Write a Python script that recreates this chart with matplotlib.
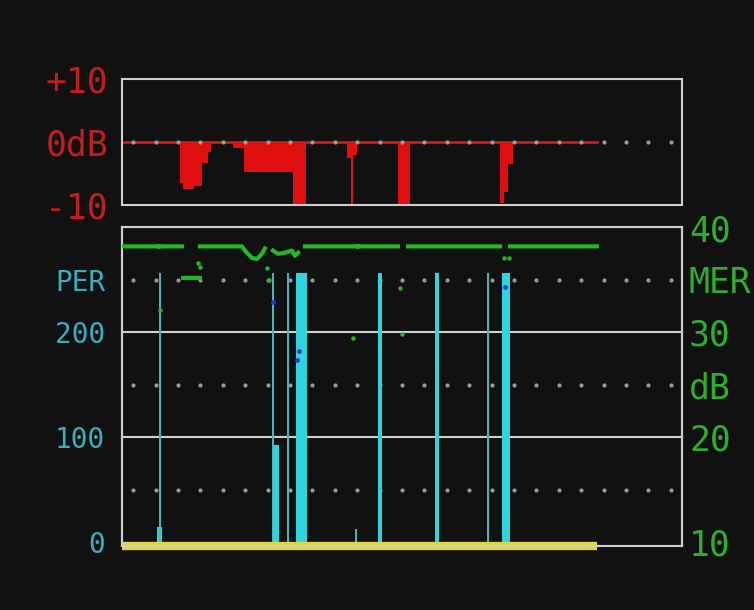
import numpy as np
from matplotlib import pyplot as plt

# time axis: 0..250 samples across the screen, data recorded up to 212
rec_end = 212.0

# MER deviation (dB), step series
delta_x = [0, 25.9, 27.2, 32.1, 35.7, 38.4, 39.7, 49.5, 54.4, 76.3, 82.1,
           100.4, 102.2, 103.1, 104.9, 123.2, 128.6, 168.8, 170.5, 172.3, 174.6, 212.0]
delta_db = [0, -6.5, -7.5, -7.0, -3.4, -1.6, 0, -0.9, -4.8, -10, 0,
            -2.5, -10, -2.0, 0, -10, 0, -9.7, -8.0, -3.5, 0, 0]

# MER (dB), NaN = gap in trace
mer_x = [0, 16.3, 16.5, 16.8, 26.8, 27.0, 34.8, 53.6, 54.9, 58.0, 60.3, 62.5, 63.8, 64.5,
         67.4, 69.6, 72.8, 75.9, 77.2, 78.6, 79.5, 81.7, 105.0, 105.2, 105.4, 123.2,
         124.5, 127.7, 168.8, 170.0, 173.2, 212.0]
mer_db = [38.2, 38.2, np.nan, 38.2, 38.2, np.nan, 38.2, 38.2, 37.8, 37.1, 37.0, 37.5, 38.0, np.nan,
          37.8, 37.5, 37.6, 37.8, 37.3, 37.6, np.nan, 38.2, 38.2, np.nan, 38.2, 38.2,
          np.nan, 38.2, 38.2, np.nan, 38.2, 38.2]
mer_low_x = [27.2, 34.8]
mer_low_db = [35.2, 35.2]
mer_pts_x = [17.0, 34.0, 34.8, 64.7, 65.6, 103.1, 124.1, 125.0, 170.5, 172.8]
mer_pts_db = [32.1, 36.6, 36.2, 36.1, 35.0, 29.5, 34.2, 29.8, 37.1, 37.1]

# packet error bursts
burst_start = [15.6, 16.7, 67.0, 67.6, 73.7, 77.7, 104.2, 114.5, 139.9, 162.9, 169.6]
burst_end = [17.9, 17.6, 67.9, 70.1, 74.6, 82.6, 104.9, 116.1, 141.5, 163.8, 173.2]
burst_per = [14, 257, 257, 93, 257, 257, 12, 257, 257, 257, 257]

# PER samples shown as blue dots
per_pts_x = [67.4, 78.1, 79.0, 171.0]
per_pts = [229, 174, 182, 243]

bg = "#111111"
frame = "#cfcfcf"
dots = "#9a9a9a"
red = "#e01010"
red_txt = "#c0201c"
cyan_txt = "#38aebe"
green = "#22b822"
green_txt = "#2eae2e"
font = "DejaVu Sans Mono"

W, H = 754, 610
fig = plt.figure(figsize=(W / 100, H / 100), dpi=100, facecolor=bg)
ax1 = fig.add_axes([122 / W, 1 - 205 / H, 560 / W, 126 / H], facecolor=bg)
ax2 = fig.add_axes([122 / W, 1 - 546 / H, 560 / W, 319 / H], facecolor=bg)
ax3 = ax2.twinx()

grid_x = np.arange(5, 250, 10)

# top panel
ax1.set_xlim(0, 250)
ax1.set_ylim(-10, 10)
ax1.fill_between(delta_x, delta_db, 0, step="post", color=red, lw=0)
ax1.plot([0, rec_end], [0, 0], color=red, lw=2)
ax1.plot(grid_x, np.zeros_like(grid_x), ls="none", marker="o", ms=2, color=dots, zorder=5)
ax1.set_xticks([])
ax1.set_yticks([-10, 0, 10], ["-10", "0dB", "+10"])
ax1.tick_params(axis="y", length=0, pad=10, labelcolor=red_txt, labelsize=25)

# bottom panel
ax2.set_xlim(0, 250)
ax2.set_ylim(-3.8, 300.5)
ax3.set_ylim(10 - 0.38, 40.05)
for y in [100, 200]:
    ax2.axhline(y, color=frame, lw=1.5, zorder=1)
for y in [50, 150, 250]:
    ax2.plot(grid_x, np.full(len(grid_x), y), ls="none", marker="o", ms=2, color=dots, zorder=1)

widths = np.array(burst_end) - np.array(burst_start)
colors = ["#46b4bc" if w < 1.2 else "#2fd4de" for w in widths]
ax2.bar(burst_start, burst_per, width=widths, align="edge", color=colors, lw=0, zorder=2)
ax2.scatter(per_pts_x, per_pts, s=6, color="#2a3ad0", zorder=3)
ax2.plot([0, rec_end], [-3.8, -3.8], color="#e2d43a", lw=6, solid_capstyle="butt",
         clip_on=False, zorder=6)

ax3.plot(mer_x, mer_db, color=green, lw=3, zorder=4)
ax3.plot(mer_low_x, mer_low_db, color=green, lw=3, zorder=4)
ax3.scatter(mer_pts_x, mer_pts_db, s=5, color=green, zorder=4)

ax2.set_xticks([])
ax2.set_yticks([0, 100, 200, 250], ["0", "100", "200", "PER"])
ax2.tick_params(axis="y", length=0, pad=12, labelcolor=cyan_txt, labelsize=20)
ax3.set_yticks([10, 20, 25, 30, 35, 40], ["10", "20", "dB", "30", "MER", "40"])
ax3.tick_params(axis="y", length=0, pad=5, labelcolor=green_txt, labelsize=25)

for ax in [ax1, ax2, ax3]:
    for s in ax.spines.values():
        s.set_color(frame)
        s.set_linewidth(1.5)
    for lab in ax.get_yticklabels():
        lab.set_fontfamily(font)

fig.savefig("out.png", dpi=100, facecolor=bg)
